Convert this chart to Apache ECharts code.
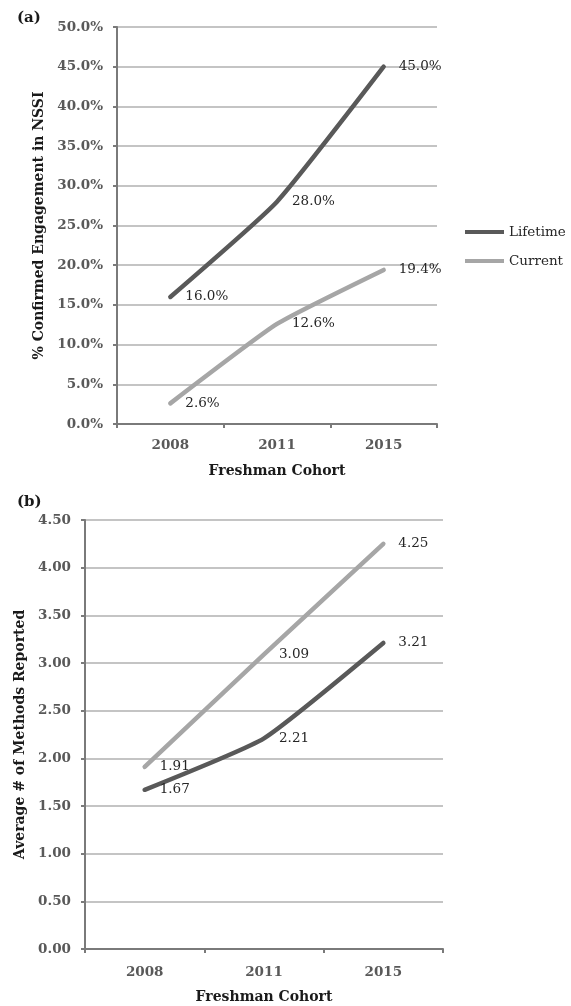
<!DOCTYPE html>
<html>
<head>
<meta charset="utf-8">
<script src="https://cdn.jsdelivr.net/npm/echarts@6/dist/echarts.min.js"></script>
<style>
  html, body { margin: 0; padding: 0; background: #ffffff; }
  #main { width: 571px; height: 1006px; }
</style>
</head>
<body>
<div id="main"></div>
<script>
// data for panel (a): % confirmed engagement in NSSI
var cohorts = ['2008', '2011', '2015'];
var pctLifetime = [16.0, 28.0, 45.0];
var pctCurrent = [2.6, 12.6, 19.4];

// data for panel (b): average # of methods reported
var methodsLifetime = [1.67, 2.21, 3.21];
var methodsCurrent = [1.91, 3.09, 4.25];

var serif = 'DejaVu Serif';
var darkGrey = '#595959';
var lightGrey = '#a6a6a6';

var chart = echarts.init(document.getElementById('main'));

// shared axis styling
function xAxisFor(gridIdx, gap, lblMargin) {
  return {
    gridIndex: gridIdx,
    type: 'category',
    data: cohorts,
    boundaryGap: true,
    name: 'Freshman Cohort',
    nameLocation: 'middle',
    nameGap: gap,
    nameTextStyle: { fontFamily: serif, fontWeight: 'bold', fontSize: 14, color: '#1a1a1a' },
    axisLine: { show: true, lineStyle: { color: '#7a7a7a', width: 2 } },
    axisTick: { show: true, length: 4, lineStyle: { color: '#7a7a7a', width: 2 } },
    axisLabel: { margin: lblMargin, fontFamily: serif, fontWeight: 'bold', fontSize: 13.5, color: darkGrey },
    splitLine: { show: false }
  };
}

function yAxisFor(gridIdx, name, gap, max, step, fmt) {
  return {
    gridIndex: gridIdx,
    type: 'value',
    min: 0,
    max: max,
    interval: step,
    name: name,
    nameLocation: 'middle',
    nameGap: gap,
    nameRotate: 90,
    nameTextStyle: { fontFamily: serif, fontWeight: 'bold', fontSize: 14, color: '#1a1a1a' },
    axisLine: { show: true, lineStyle: { color: '#7a7a7a', width: 2 } },
    axisTick: { show: true, length: 4, lineStyle: { color: '#7a7a7a', width: 2 } },
    axisLabel: { margin: 14, fontFamily: serif, fontWeight: 'bold', fontSize: 13.5, color: darkGrey, formatter: fmt },
    splitLine: { show: true, lineStyle: { color: '#c4c4c4', width: 2 } }
  };
}

function lineSeries(name, color, xi, data, fmt) {
  return {
    name: name,
    type: 'line',
    xAxisIndex: xi,
    yAxisIndex: xi,
    data: data,
    smooth: 0.15,
    showSymbol: true,
    symbol: 'circle',
    symbolSize: 2,
    lineStyle: { color: color, width: 4.5, cap: 'round' },
    itemStyle: { color: color },
    label: {
      show: true,
      position: 'right',
      distance: 14,
      fontFamily: serif,
      fontSize: 13.5,
      color: '#262626',
      formatter: function (p) { return fmt(p.value); }
    },
    emphasis: { disabled: true },
    z: name === 'Lifetime' ? 3 : 2
  };
}

var pctFmt = function (v) { return v.toFixed(1) + '%'; };
var numFmt = function (v) { return v.toFixed(2); };

var option = {
  animation: false,
  backgroundColor: '#ffffff',
  title: [
    { text: '(a)', left: 12, top: 6, textStyle: { fontFamily: serif, fontWeight: 'bold', fontSize: 15, color: '#1a1a1a' } },
    { text: '(b)', left: 12, top: 490, textStyle: { fontFamily: serif, fontWeight: 'bold', fontSize: 15, color: '#1a1a1a' } }
  ],
  legend: {
    orient: 'vertical',
    left: 465,
    top: 225,
    padding: 0,
    itemWidth: 39,
    itemHeight: 4,
    itemGap: 15,
    icon: 'rect',
    data: ['Lifetime', 'Current'],
    textStyle: { fontFamily: serif, fontSize: 13.5, color: '#262626' }
  },
  grid: [
    { left: 117, top: 27, width: 320, height: 397 },
    { left: 85, top: 520, width: 358, height: 429 }
  ],
  xAxis: [xAxisFor(0, 40, 14), xAxisFor(1, 41, 16)],
  yAxis: [
    yAxisFor(0, '% Confirmed Engagement in NSSI', 69, 50, 5, function (v) { return v.toFixed(1) + '%'; }),
    yAxisFor(1, 'Average # of Methods Reported', 55, 4.5, 0.5, function (v) { return v.toFixed(2); })
  ],
  series: [
    lineSeries('Lifetime', darkGrey, 0, pctLifetime, pctFmt),
    lineSeries('Current', lightGrey, 0, pctCurrent, pctFmt),
    lineSeries('Lifetime', darkGrey, 1, methodsLifetime, numFmt),
    lineSeries('Current', lightGrey, 1, methodsCurrent, numFmt)
  ]
};

chart.setOption(option);
window.addEventListener('resize', function () {
  chart.resize();
});
</script>
</body>
</html>
